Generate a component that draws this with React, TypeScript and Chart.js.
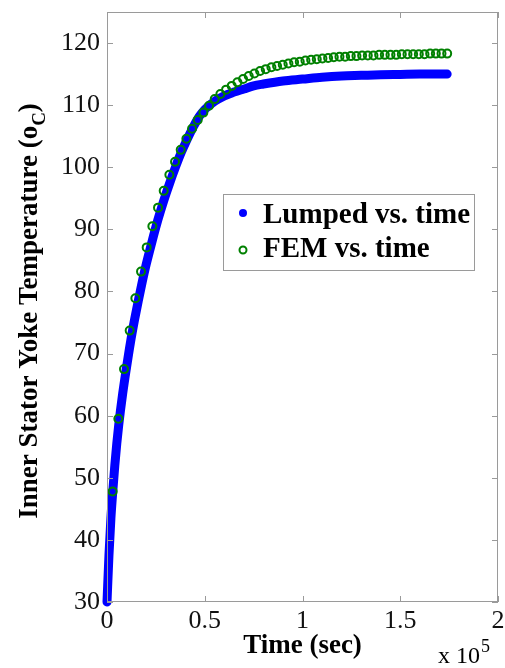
import React, { useEffect, useRef } from "react";
import { Chart, registerables } from "chart.js";

Chart.register(...registerables);

// ---- Data ----
const lumpedTime = [
  0, 1000, 2000, 3000, 4000, 5000, 6000, 8000, 10000, 12000, 14000, 16000, 18000,
  20000, 23000, 26000, 29000, 32000, 35000, 38000, 41000, 44000, 47000, 50000,
  55000, 60000, 65000, 70000, 75000, 80000, 90000, 100000, 110000, 120000,
  130000, 140000, 150000, 160000, 174000,
];
const lumpedTemp = [
  30, 37.5, 43.5, 48, 52, 55.5, 58.5, 63.5, 67.8, 71.8, 75.3, 78.5, 81.5,
  84.3, 88, 91.5, 94.6, 97.4, 100, 102.4, 104.5, 106.4, 108.1, 109.3,
  110.6, 111.5, 112.1, 112.6, 113.1, 113.4, 113.9, 114.2, 114.5, 114.7,
  114.8, 114.9, 114.95, 115, 115,
];

const femTime = [
  2900, 5800, 8700, 11600, 14500, 17400, 20300, 23200, 26100, 29000,
  31900, 34800, 37700, 40600, 43500, 46400, 49300, 52200, 55100, 58000,
  60900, 63800, 66700, 69600, 72500, 75400, 78300, 81200, 84100, 87000,
  89900, 92800, 95700, 98600, 101500, 104400, 107300, 110200, 113100, 116000,
  118900, 121800, 124700, 127600, 130500, 133400, 136300, 139200, 142100, 145000,
  147900, 150800, 153700, 156600, 159500, 162400, 165300, 168200, 171100, 174000,
];
const femTemp = [
  47.8, 59.5, 67.5, 73.7, 78.9, 83.2, 87.1, 90.5, 93.5, 96.2,
  98.8, 100.9, 102.8, 104.6, 106.2, 107.6, 108.8, 109.9, 111.0, 111.8,
  112.5, 113.1, 113.7, 114.2, 114.7, 115.1, 115.5, 115.8, 116.1, 116.3,
  116.5, 116.7, 116.9, 117.0, 117.2, 117.3, 117.4, 117.5, 117.6, 117.7,
  117.8, 117.8, 117.9, 117.9, 118.0, 118.0, 118.0, 118.1, 118.1, 118.1,
  118.1, 118.2, 118.2, 118.2, 118.2, 118.2, 118.3, 118.3, 118.3, 118.3,
];

const seriesNames = ["Lumped vs. time", "FEM vs. time"];
const xTitle = "Time (sec)";
const yTitleMain = "Inner Stator Yoke Temperature (o";
const yTitleSub = "C";
const yTitleEnd = ")";
const xMultiplier = "x 10";
const xExponent = "5";

const SERIF = "'Liberation Serif', 'Times New Roman', serif";
const BLUE = "#0000ff";
const GREEN = "#008000";
const AXIS = "#9a9a9a";

const decorPlugin = {
  id: "decor",
  afterDraw(chart: any) {
    const { ctx, chartArea, scales } = chart;
    const { left, right, top, bottom } = chartArea;
    ctx.save();
    // box
    ctx.strokeStyle = AXIS;
    ctx.lineWidth = 1;
    ctx.strokeRect(left + 0.5, top + 0.5, right - left - 1, bottom - top - 1);
    // inward ticks
    const tl = 6;
    ctx.beginPath();
    scales.x.ticks.forEach((t: any) => {
      const px = Math.round(scales.x.getPixelForValue(t.value)) + 0.5;
      ctx.moveTo(px, bottom);
      ctx.lineTo(px, bottom - tl);
      ctx.moveTo(px, top);
      ctx.lineTo(px, top + tl);
    });
    scales.y.ticks.forEach((t: any) => {
      const py = Math.round(scales.y.getPixelForValue(t.value)) + 0.5;
      ctx.moveTo(left, py);
      ctx.lineTo(left + tl, py);
      ctx.moveTo(right, py);
      ctx.lineTo(right - tl, py);
    });
    ctx.stroke();

    // x title
    ctx.fillStyle = "#000";
    ctx.font = `bold 27px ${SERIF}`;
    ctx.textAlign = "center";
    ctx.textBaseline = "alphabetic";
    ctx.fillText(xTitle, (left + right) / 2, 653);

    // multiplier
    ctx.font = `24px ${SERIF}`;
    ctx.textAlign = "left";
    ctx.fillText(xMultiplier, 438, 663);
    const mw = ctx.measureText(xMultiplier).width;
    ctx.font = `18px ${SERIF}`;
    ctx.fillText(xExponent, 438 + mw + 1, 652);

    // y title (rotated)
    ctx.save();
    ctx.translate(37, (top + bottom) / 2 + 4);
    ctx.rotate(-Math.PI / 2);
    ctx.font = `bold 27px ${SERIF}`;
    const w1 = ctx.measureText(yTitleMain).width;
    ctx.font = `bold 19px ${SERIF}`;
    const w2 = ctx.measureText(yTitleSub).width;
    ctx.font = `bold 27px ${SERIF}`;
    const w3 = ctx.measureText(yTitleEnd).width;
    const total = w1 + w2 + w3;
    let x0 = -total / 2;
    ctx.textAlign = "left";
    ctx.fillText(yTitleMain, x0, 0);
    x0 += w1;
    ctx.font = `bold 19px ${SERIF}`;
    ctx.fillText(yTitleSub, x0, 8);
    x0 += w2;
    ctx.font = `bold 27px ${SERIF}`;
    ctx.fillText(yTitleEnd, x0, 0);
    ctx.restore();

    // legend
    const lx = 223, ly = 194, lw = 251, lh = 76;
    ctx.fillStyle = "#fff";
    ctx.fillRect(lx, ly, lw, lh);
    ctx.strokeStyle = AXIS;
    ctx.lineWidth = 1;
    ctx.strokeRect(lx + 0.5, ly + 0.5, lw, lh);
    ctx.fillStyle = BLUE;
    ctx.beginPath();
    ctx.arc(243, 213, 4, 0, Math.PI * 2);
    ctx.fill();
    ctx.strokeStyle = GREEN;
    ctx.lineWidth = 2;
    ctx.beginPath();
    ctx.arc(243, 250, 3.5, 0, Math.PI * 2);
    ctx.stroke();
    ctx.fillStyle = "#000";
    ctx.font = `bold 29px ${SERIF}`;
    ctx.textAlign = "left";
    ctx.fillText(seriesNames[0], 263, 223);
    ctx.fillText(seriesNames[1], 263, 257);
    ctx.restore();
  },
};

export default function App() {
  const ref = useRef<HTMLCanvasElement | null>(null);
  useEffect(() => {
    if (!ref.current) return;
    const chart = new Chart(ref.current, {
      type: "scatter",
      data: {
        datasets: [
          {
            label: seriesNames[1],
            data: femTime.map((t, i) => ({ x: t, y: femTemp[i] })),
            showLine: false,
            pointStyle: "circle",
            pointRadius: 4,
            pointBorderWidth: 2,
            pointBorderColor: GREEN,
            pointBackgroundColor: "rgba(0,0,0,0)",
            borderColor: GREEN,
            backgroundColor: "rgba(0,0,0,0)",
            order: 0,
            clip: false as any,
          },
          {
            label: seriesNames[0],
            data: lumpedTime.map((t, i) => ({ x: t, y: lumpedTemp[i] })),
            showLine: true,
            borderColor: BLUE,
            backgroundColor: BLUE,
            borderWidth: 9,
            borderCapStyle: "round",
            borderJoinStyle: "round",
            cubicInterpolationMode: "monotone",
            pointRadius: 0,
            order: 1,
            clip: false as any,
          },
        ],
      },
      options: {
        responsive: false,
        animation: false,
        layout: { padding: { left: 0, top: 12, right: 7, bottom: 0 } },
        plugins: {
          legend: { display: false },
          tooltip: { enabled: false },
        },
        scales: {
          x: {
            type: "linear",
            min: 0,
            max: 200000,
            grid: { display: false, drawTicks: false },
            border: { display: false },
            ticks: {
              stepSize: 50000,
              padding: 4,
              maxRotation: 0,
              color: "#111",
              font: { family: SERIF, size: 26 },
              callback: (v: any) => String(Number(v) / 100000),
            },
            afterFit: (s: any) => {
              s.height = 66;
              s.paddingLeft = 0;
              s.paddingRight = 0;
            },
          },
          y: {
            type: "linear",
            min: 30,
            max: 125,
            grid: { display: false, drawTicks: false },
            border: { display: false },
            ticks: {
              stepSize: 10,
              includeBounds: false,
              padding: 7,
              color: "#111",
              font: { family: SERIF, size: 26 },
            },
            afterFit: (s: any) => {
              s.width = 107;
              s.paddingTop = 0;
              s.paddingBottom = 0;
            },
          },
        },
      },
      plugins: [decorPlugin],
    });
    return () => chart.destroy();
  }, []);
  return (
    <div style={{ position: "absolute", left: 0, top: 0, width: 505, height: 668, background: "#fff" }}>
      <canvas ref={ref} width={505} height={668} />
    </div>
  );
}
